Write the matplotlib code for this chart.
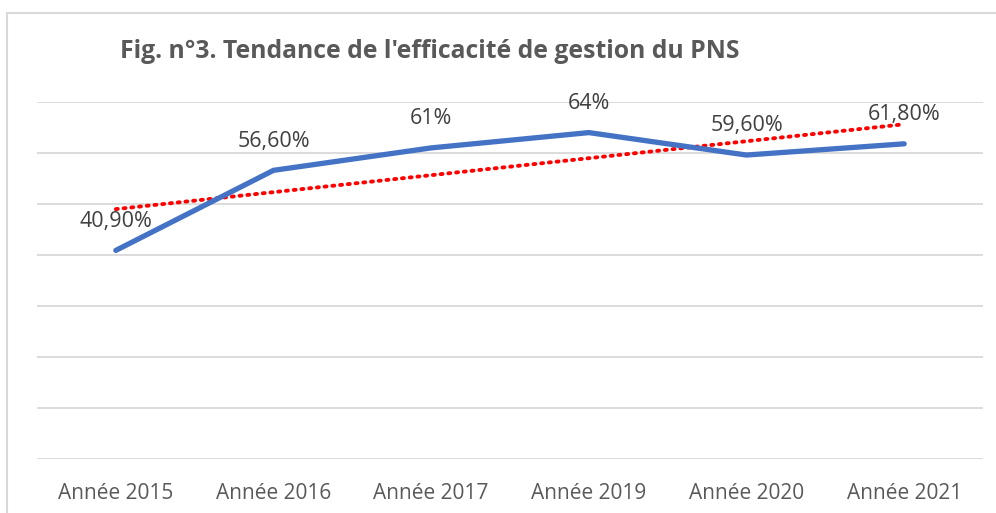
import matplotlib
matplotlib.use('Agg')
import numpy as np
import matplotlib.pyplot as plt
from matplotlib.patches import Rectangle

# data
categories = ['Année 2015', 'Année 2016', 'Année 2017', 'Année 2019', 'Année 2020', 'Année 2021']
values = [40.9, 56.6, 61.0, 64.0, 59.6, 61.8]
value_labels = ['40,90%', '56,60%', '61%', '64%', '59,60%', '61,80%']
title = "Fig. n°3. Tendance de l'efficacité de gestion du PNS"

plt.rcParams['font.family'] = ['Open Sans', 'DejaVu Sans']

fig = plt.figure(figsize=(9.96, 5.13), dpi=100)
# light frame of the chart area (cut off at right and bottom)
fig.patches.append(Rectangle((7/996, -0.1), 1.2, (513-13)/513 + 0.1, transform=fig.transFigure,
                             fill=False, edgecolor='#d9d9d9', linewidth=1.5))

ax = fig.add_axes([37/996, (513-459)/513, (983-37)/996, (459-102)/513])
x = np.arange(len(categories))

# linear trend line (Excel style)
slope, icpt = np.polyfit(x, values, 1)
ax.plot(x, slope*x + icpt, color='#ff0000', linestyle=(0, (0.5, 1.5)), linewidth=2.8,
        dash_capstyle='round', zorder=3)
ax.plot(x, values, color='#4472c4', linewidth=3.8, solid_capstyle='round', zorder=4)

for xi, v, lab in zip(x, values, value_labels):
    ax.annotate(lab, (xi, v), xytext=(0, 21), textcoords='offset points', ha='center',
                va='center', fontsize=15.5, color='#404040')

ax.set_xlim(-0.5, len(categories) - 0.5)
ax.set_ylim(0, 70)
ax.set_yticks(np.arange(0, 71, 10))
ax.yaxis.grid(True, color='#d9d9d9', linewidth=1.3)
ax.set_axisbelow(True)
ax.tick_params(axis='y', left=False, labelleft=False)
ax.tick_params(axis='x', length=0, pad=17, labelsize=15, labelcolor='#595959')
ax.set_xticks(x)
ax.set_xticklabels(categories)
for s in ax.spines.values():
    s.set_visible(False)

fig.text(120/996, 1 - 52/513, title, fontsize=17.8, fontweight='bold', color='#595959',
         ha='left', va='center')

fig.savefig('out.png', dpi=100)
